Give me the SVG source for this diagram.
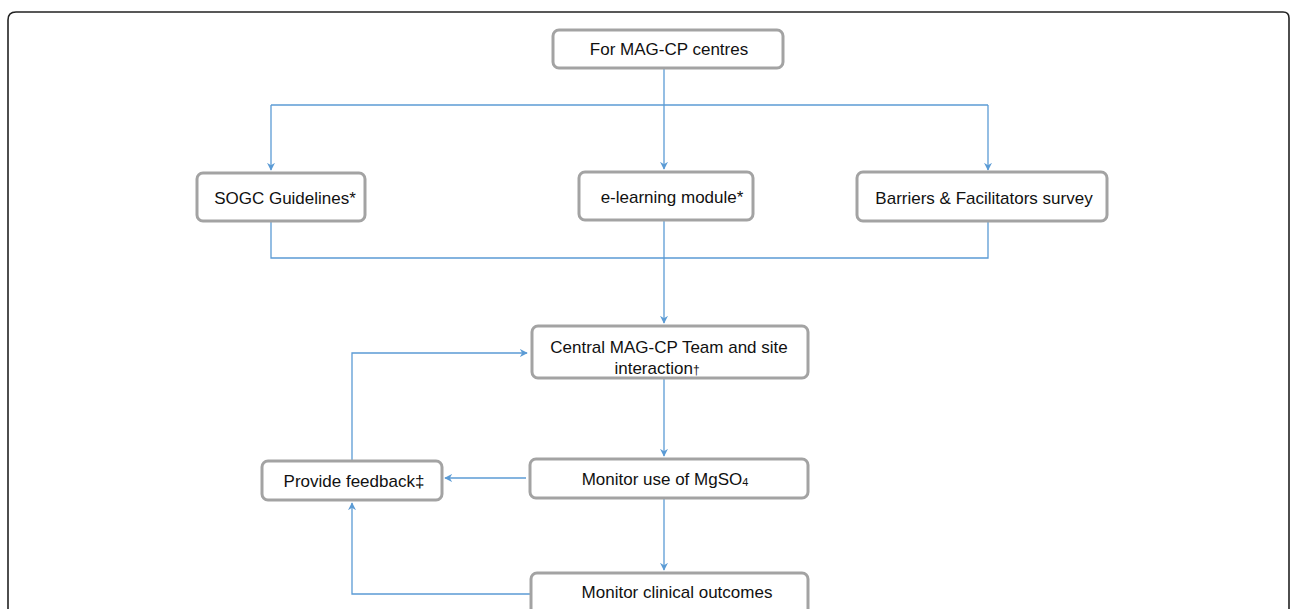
<svg xmlns="http://www.w3.org/2000/svg" width="1290" height="609" viewBox="0 0 1290 609">
<defs>
<style>
.box{fill:#fff;stroke:#a3a3a3;stroke-width:3}
.t{font-family:"Liberation Sans",Arial,sans-serif;font-size:17px;fill:#111;text-anchor:middle}
.c{fill:none;stroke:#5b9bd5;stroke-width:1.3}
</style>
<marker id="a" viewBox="0 0 10 10" refX="9" refY="5" markerWidth="8" markerHeight="8" orient="auto" markerUnits="userSpaceOnUse">
<path d="M0,0 L10,5 L0,10 L3,5 Z" fill="#5b9bd5"/>
</marker>
</defs>
<rect width="1290" height="609" fill="#fff"/>
<path d="M8,640 L8,20 Q8,12 16,12 L1283,12 Q1289,12 1289,18 L1289,640" fill="none" stroke="#222" stroke-width="1.6"/>
<g id="connectors">
<path class="c" d="M664,68 L664,169" marker-end="url(#a)"/>
<path class="c" d="M271,105 L988,105"/>
<path class="c" d="M271,105 L271,170" marker-end="url(#a)"/>
<path class="c" d="M988,105 L988,170" marker-end="url(#a)"/>
<path class="c" d="M271,221 L271,258 L988,258 L988,221"/>
<path class="c" d="M664,220 L664,323" marker-end="url(#a)"/>
<path class="c" d="M664,379 L664,456" marker-end="url(#a)"/>
<path class="c" d="M664,499 L664,570" marker-end="url(#a)"/>
<path class="c" d="M526,478 L445,478" marker-end="url(#a)"/>
<path class="c" d="M531,594 L352,594 L352,503" marker-end="url(#a)"/>
<path class="c" d="M352,461 L352,353 L527,353" marker-end="url(#a)"/>
</g>
<g id="n1"><rect class="box" x="553" y="30" width="230" height="38" rx="6"/><text class="t" x="669" y="55">For MAG-CP centres</text></g>
<g id="n2"><rect class="box" x="197" y="173" width="168" height="48" rx="6"/><text class="t" x="285" y="204">SOGC Guidelines*</text></g>
<g id="n3"><rect class="box" x="579" y="172" width="174" height="48" rx="6"/><text class="t" x="672" y="203">e-learning module*</text></g>
<g id="n4"><rect class="box" x="857" y="172" width="250" height="49" rx="6"/><text class="t" x="984" y="204">Barriers &amp; Facilitators survey</text></g>
<g id="n5"><rect class="box" x="532" y="326" width="276" height="52" rx="6"/><text class="t" x="669" y="353">Central MAG-CP Team and site</text><text class="t" x="657" y="374">interaction<tspan font-size="12">†</tspan></text></g>
<g id="n6"><rect class="box" x="262" y="461" width="180" height="39" rx="6"/><text class="t" x="354" y="487">Provide feedback‡</text></g>
<g id="n7"><rect class="box" x="530" y="459" width="278" height="39" rx="6"/><text class="t" x="665" y="485">Monitor use of MgSO<tspan font-size="11" dy="1">4</tspan></text></g>
<g id="n8"><rect class="box" x="531" y="573" width="277" height="50" rx="6"/><text class="t" x="677" y="598">Monitor clinical outcomes</text></g>
</svg>
